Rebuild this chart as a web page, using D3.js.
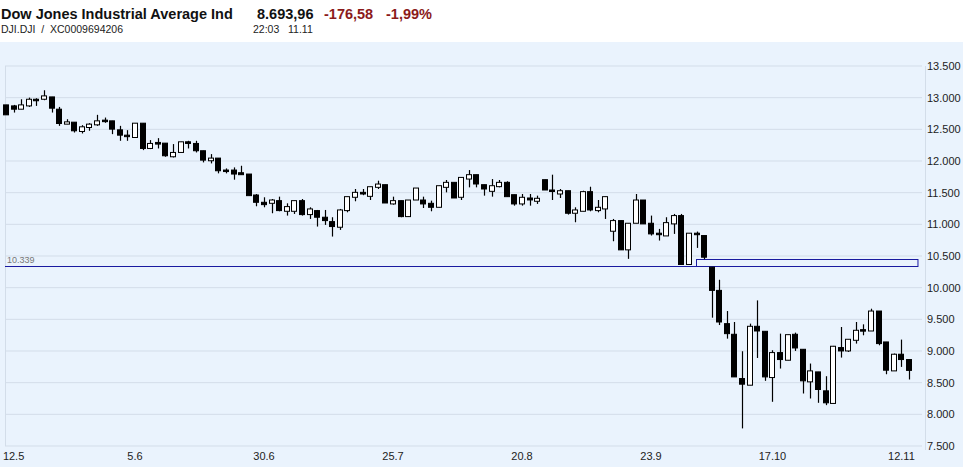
<!DOCTYPE html>
<html><head><meta charset="utf-8">
<script src="https://cdn.jsdelivr.net/npm/d3@7.9.0/dist/d3.min.js"></script>
<style>
body{margin:0;background:#fff;font-family:"Liberation Sans",Arial,sans-serif;}
svg{display:block;}
text{white-space:pre;}
</style></head><body>
<svg id="c" width="963" height="467"></svg>
<script>
// [open, close, high, low] per trading day
const opens  = [12886,12870,12818,12870,12975,12975,13012,12818,12582,12613,12466,12529,12571,12645,12634,12492,12408,12371,12597,12198,12293,12282,12067,12135,12303,12277,12162,12004,12046,11857,11857,11815,11794,11463,11348,11332,11374,11206,11206,11374,11154,11217,11112,11043,10954,11217,11427,11505,11442,11584,11626,11322,11374,11122,11384,11384,11332,11269,11584,11663,11427,11715,11784,11626,11521,11595,11663,11468,11322,11416,11364,11705,11542,11479,11531,11175,11206,11516,11217,11243,10891,11059,10597,11017,11384,11017,10860,10817,11007,11138,10366,10860,10823,10324,9957,9432,9264,8565,8460,9390,9311,8581,8975,8854,9264,9027,8513,8670,8371,8172,9054,9001,9169,9337,9316,9631,9143,8686,8949,8865];
const closes = [12729,12818,12886,12975,12965,13028,12834,12592,12618,12477,12540,12582,12634,12634,12503,12408,12387,12597,12198,12277,12267,12083,12135,12303,12277,12162,12014,12046,11846,11836,11794,11784,11453,11348,11311,11384,11217,11280,11374,11154,11243,11112,11059,10965,11227,11437,11505,11479,11594,11636,11337,11374,11122,11384,11573,11322,11269,11610,11663,11416,11741,11784,11637,11558,11610,11663,11437,11322,11427,11385,11411,11542,11531,11531,11175,11227,11516,11227,11269,11437,11059,10597,11017,11384,11007,10849,10838,11027,11138,10366,10860,10838,10481,9957,9458,9274,8591,8476,9390,9316,8591,8975,8865,9258,9048,8529,8686,8392,8182,9075,9001,9185,9327,9327,9631,9117,8697,8949,8865,8694];
const highs  = [12886,12886,12975,13001,12991,13117,13012,12854,12660,12613,12566,12597,12729,12686,12634,12555,12487,12597,12597,12330,12361,12282,12267,12303,12319,12319,12162,12109,12046,11883,11899,11925,11794,11479,11427,11400,11437,11332,11374,11400,11269,11227,11227,11112,11243,11437,11558,11558,11594,11689,11626,11437,11374,11384,11573,11437,11374,11610,11700,11663,11741,11857,11784,11626,11715,11700,11680,11468,11479,11479,11453,11705,11784,11558,11531,11269,11531,11594,11384,11437,11085,11059,11017,11479,11384,11138,10928,11112,11164,11164,10860,10886,10823,10324,10125,9631,9458,8996,9432,9799,9311,9012,9274,9258,9290,9027,8802,8670,8602,9080,9379,9185,9458,9421,9668,9631,9143,8960,9180,8865];
const lows   = [12729,12765,12818,12854,12870,12960,12765,12555,12582,12450,12435,12477,12555,12603,12424,12319,12319,12371,12172,12188,12198,12067,12056,12135,12198,12135,11978,11962,11805,11805,11705,11784,11453,11285,11269,11175,11206,11138,11164,11138,11085,10965,10991,10807,10912,11190,11364,11460,11384,11558,11337,11311,11112,11122,11384,11258,11206,11269,11505,11416,11384,11584,11584,11453,11437,11584,11437,11295,11295,11295,11322,11542,11384,11416,11154,11033,11206,11206,11190,11085,10733,10597,10455,11017,11007,10823,10744,10817,10849,10366,10366,10628,10450,9526,9410,9195,8591,7778,8460,8890,8529,8198,8723,8854,9001,8329,8250,8182,8145,8172,8896,8985,9117,9248,9316,9090,8633,8686,8749,8550];
const dateLabels = ['12.5','5.6','30.6','25.7','20.8','23.9','17.10','12.11'];
const dateIndex  = [1,17,34,51,68,85,101,118];
const yTicks = [7500,8000,8500,9000,9500,10000,10500,11000,11500,12000,12500,13000,13500];
const refLevel = 10339;
const boxTop = 10450, boxStart = 91;

const svg = d3.select('#c');
const fmt = d3.formatLocale({decimal:',',thousands:'.',grouping:[3],currency:['','']}).format(',.0f');

// header
svg.append('text').attr('x',1).attr('y',19).attr('font-size',14.5).attr('font-weight','bold').attr('fill','#111').text('Dow Jones Industrial Average Ind');
svg.append('text').attr('x',257).attr('y',19).attr('font-size',14.5).attr('font-weight','bold').attr('fill','#111').text('8.693,96');
svg.append('text').attr('x',324).attr('y',19).attr('font-size',14.5).attr('font-weight','bold').attr('fill','#8b1a1a').text('-176,58');
svg.append('text').attr('x',386).attr('y',19).attr('font-size',14.5).attr('font-weight','bold').attr('fill','#8b1a1a').text('-1,99%');
svg.append('text').attr('x',1).attr('y',33).attr('font-size',10.5).attr('fill','#222').text('DJI.DJI  /  XC0009694206');
svg.append('text').attr('x',253).attr('y',33).attr('font-size',10.5).attr('fill','#222').text('22:03   11.11');

svg.append('rect').attr('x',0).attr('y',42).attr('width',963).attr('height',425).attr('fill','#eaf3fd');

const x = d3.scaleLinear().domain([0, opens.length-1]).range([6, 909]);
const y = d3.scaleLinear().domain([7500, 13500]).range([446, 66]);

// grid
svg.selectAll('.grid').data(yTicks).join('line')
  .attr('x1',5).attr('x2',922).attr('y1',d=>y(d)).attr('y2',d=>y(d))
  .attr('stroke','#d3dde9').attr('stroke-width',1);
svg.append('line').attr('x1',5.5).attr('x2',5.5).attr('y1',66).attr('y2',446).attr('stroke','#d3dde9');
svg.append('line').attr('x1',925.5).attr('x2',925.5).attr('y1',66).attr('y2',450).attr('stroke','#d3dde9');

svg.selectAll('.ylab').data(yTicks).join('text')
  .attr('x',927).attr('y',d=>y(d)+4).attr('font-size',11).attr('fill','#222').text(d=>fmt(d));
svg.selectAll('.xlab').data(dateLabels).join('text')
  .attr('x',(d,i)=>x(dateIndex[i])).attr('y',460).attr('text-anchor','middle')
  .attr('font-size',11).attr('fill','#222').text(d=>d);

// reference line
svg.append('line').attr('x1',5).attr('x2',918).attr('y1',Math.round(y(refLevel))+0.5).attr('y2',Math.round(y(refLevel))+0.5).attr('stroke','#1a1aa0');
svg.append('text').attr('x',7).attr('y',y(refLevel)-3).attr('font-size',9).attr('fill','#777').text(fmt(refLevel));
svg.append('rect').attr('x',Math.round(x(boxStart))-0.5).attr('y',Math.round(y(boxTop))+0.5).attr('width',918-x(boxStart)).attr('height',Math.round(y(refLevel))-Math.round(y(boxTop)))
  .attr('fill','none').attr('stroke','#1a1aa0');

// candles
const idx = d3.range(opens.length);
const g = svg.append('g');
g.selectAll('.wick').data(idx).join('line')
  .attr('x1',i=>Math.round(x(i))+0.5).attr('x2',i=>Math.round(x(i))+0.5)
  .attr('y1',i=>y(highs[i])).attr('y2',i=>y(lows[i]))
  .attr('stroke','#000').attr('stroke-width',1.2);
g.selectAll('.body').data(idx).join('rect')
  .attr('x',i=>Math.round(x(i))-2.5).attr('width',5)
  .attr('y',i=>y(Math.max(opens[i],closes[i])))
  .attr('height',i=>Math.max(1.5, Math.abs(y(opens[i])-y(closes[i]))))
  .attr('fill',i=>closes[i]<opens[i]?'#000':'#fff')
  .attr('stroke','#000').attr('stroke-width',1);
</script></body></html>
